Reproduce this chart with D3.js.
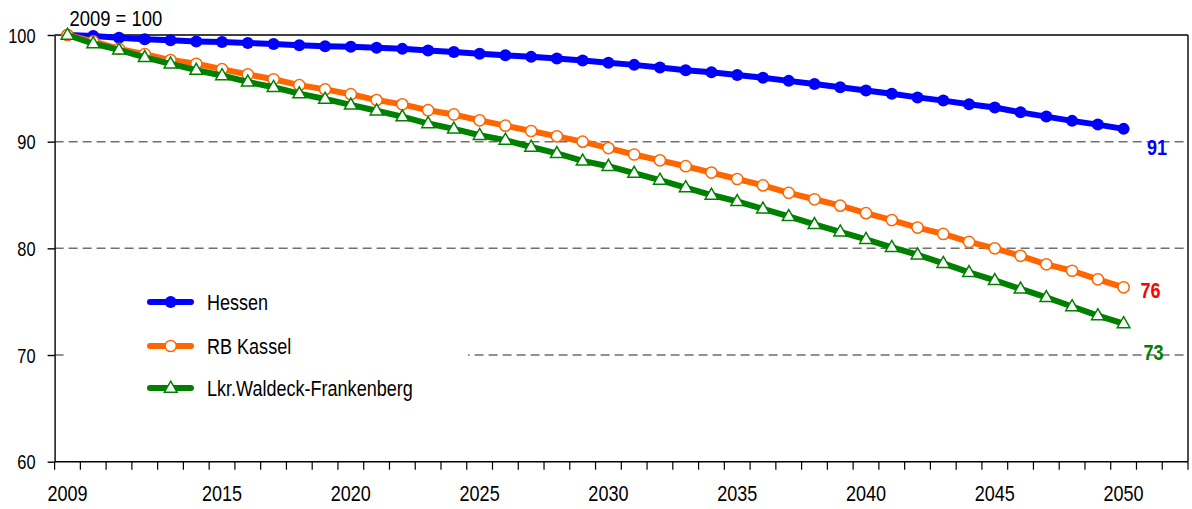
<!DOCTYPE html>
<html>
<head>
<meta charset="utf-8">
<script src="https://cdn.jsdelivr.net/npm/d3@7"></script>
<style>
  html, body { margin: 0; padding: 0; background: #fff; }
  svg { display: block; }
  text { font-family: "Liberation Sans", Arial, sans-serif; }
</style>
</head>
<body>
<svg id="chart" width="1192" height="509"></svg>
<script>
// ---------- data ----------
const categories = [2009, 2010, 2011, 2012, 2013, 2014, 2015, 2016, 2017, 2018,
  2019, 2020, 2021, 2022, 2023, 2024, 2025, 2026, 2027, 2028,
  2029, 2030, 2031, 2032, 2033, 2034, 2035, 2036, 2037, 2038,
  2039, 2040, 2041, 2042, 2043, 2044, 2045, 2046, 2047, 2048,
  2049, 2050];
const emptySlots = [2051, 2052];

const hessen = [100, 99.9, 99.75, 99.6, 99.5, 99.4, 99.35, 99.25, 99.15, 99.05,
  98.95, 98.9, 98.8, 98.7, 98.55, 98.4, 98.25, 98.1, 97.95, 97.8,
  97.6, 97.4, 97.2, 96.95, 96.7, 96.5, 96.25, 96.0, 95.7, 95.4,
  95.1, 94.8, 94.5, 94.15, 93.85, 93.5, 93.2, 92.75, 92.35, 91.95,
  91.6, 91.2];
const rbKassel = [100, 99.4, 98.7, 98.2, 97.65, 97.3, 96.8, 96.3, 95.85, 95.3,
  94.9, 94.45, 93.9, 93.5, 92.95, 92.55, 92.0, 91.5, 91.0, 90.5,
  90.0, 89.4, 88.8, 88.25, 87.7, 87.1, 86.5, 85.9, 85.2, 84.6,
  84.0, 83.3, 82.65, 81.95, 81.35, 80.6, 80.0, 79.3, 78.5, 77.9,
  77.1, 76.35];
const waldeck = [100, 99.2, 98.6, 97.9, 97.3, 96.7, 96.2, 95.6, 95.1, 94.5,
  94.0, 93.45, 92.9, 92.35, 91.7, 91.2, 90.6, 90.15, 89.5, 88.9,
  88.2, 87.7, 87.05, 86.4, 85.7, 85.0, 84.4, 83.7, 83.0, 82.25,
  81.55, 80.85, 80.1, 79.4, 78.6, 77.75, 77.0, 76.2, 75.4, 74.55,
  73.7, 72.95];

const seriesNames = ["Hessen", "RB Kassel", "Lkr.Waldeck-Frankenberg"];
const endLabels = ["91", "76", "73"];
const xTickLabels = [2009, 2015, 2020, 2025, 2030, 2035, 2040, 2045, 2050];
const yTicks = [60, 70, 80, 90, 100];
const gridValues = [70, 80, 90];
const baseLabel = "2009 = 100";

(function () {
// ---------- styling ----------
const colors = ["#0000ff", "#ff6600", "#008000"];
const labelColors = ["#0000ff", "#ff0000", "#008000"];
const NARROW = 0.82;

const svg = d3.select("#chart");
const pLeft = 54.6, pRight = 1188, pTop = 35, pBottom = 461.7;

const x = d3.scaleBand().domain(categories.concat(emptySlots)).range([pLeft, pRight]).padding(0);
const bw = x.bandwidth();
const cx = d => x(d) + bw / 2;
const y = d3.scaleLinear().domain([60, 100]).range([pBottom, pTop]);

// gridlines
svg.append("g").selectAll("line").data(gridValues).join("line")
  .attr("x1", pLeft).attr("x2", pRight)
  .attr("y1", d => y(d)).attr("y2", d => y(d))
  .attr("stroke", "#707070").attr("stroke-width", 1.5)
  .attr("stroke-dasharray", "9,5");

// legend background (covers gridline)
svg.append("rect")
  .attr("x", 66).attr("y", 268).attr("width", 402).attr("height", 142)
  .attr("fill", "#fff");

// plot frame: top & right
svg.append("line").attr("x1", pLeft).attr("x2", pRight).attr("y1", y(100)).attr("y2", y(100))
  .attr("stroke", "#000").attr("stroke-width", 1.4);
svg.append("line").attr("x1", pRight).attr("x2", pRight).attr("y1", y(100)).attr("y2", y(60))
  .attr("stroke", "#000").attr("stroke-width", 1.4);

// y axis
const yAxis = svg.append("g").attr("transform", `translate(${pLeft},0)`)
  .call(d3.axisLeft(y).tickValues(yTicks).tickSize(7).tickPadding(0).tickSizeOuter(0));
yAxis.select(".domain").attr("stroke", "#000").attr("stroke-width", 1.4);
yAxis.selectAll(".tick line").attr("stroke", "#000").attr("stroke-width", 1.4);
yAxis.selectAll(".tick text")
  .attr("x", -19 / NARROW).attr("dy", "0.36em")
  .attr("transform", `scale(${NARROW},1)`)
  .style("font-size", "20px").style("font-family", "'Liberation Sans', Arial, sans-serif")
  .style("fill", "#000");

// x axis line + boundary ticks
const xg = svg.append("g");
xg.append("line").attr("x1", pLeft).attr("x2", pRight).attr("y1", pBottom).attr("y2", pBottom)
  .attr("stroke", "#000").attr("stroke-width", 1.4);
const boundaries = x.domain().map(d => x(d)).concat([pRight]);
xg.selectAll("line.tk").data(boundaries).join("line").attr("class", "tk")
  .attr("x1", d => d).attr("x2", d => d).attr("y1", pBottom).attr("y2", pBottom + 8)
  .attr("stroke", "#000").attr("stroke-width", 1.2);
xg.selectAll("text").data(xTickLabels).join("text")
  .attr("transform", d => `translate(${cx(d)},${pBottom + 39.5}) scale(${NARROW},1)`)
  .attr("text-anchor", "middle")
  .style("font-size", "22px").style("fill", "#000")
  .text(d => d);

// base label
svg.append("text")
  .attr("transform", `translate(${cx(2009) + 2},${pTop - 9}) scale(${NARROW},1)`)
  .style("font-size", "22.5px").style("fill", "#000")
  .text(baseLabel);

// series
const allSeries = [hessen, rbKassel, waldeck];
const line = d3.line().x((d, i) => cx(categories[i])).y(d => y(d));
const tri = d3.symbol().type(d3.symbolTriangle).size(70);

function drawMarker(g, k, px, py) {
  if (k === 0) {
    g.append("circle").attr("cx", px).attr("cy", py).attr("r", 6).attr("fill", colors[0]);
  } else if (k === 1) {
    g.append("circle").attr("cx", px).attr("cy", py).attr("r", 5.6)
      .attr("fill", "#fff").attr("stroke", colors[1]).attr("stroke-width", 1.5);
  } else {
    g.append("path").attr("d", tri).attr("transform", `translate(${px},${py + 0.5})`)
      .attr("fill", "#fff").attr("stroke", colors[2]).attr("stroke-width", 1.5);
  }
}

allSeries.forEach((vals, k) => {
  const g = svg.append("g");
  g.append("path").datum(vals).attr("d", line)
    .attr("fill", "none").attr("stroke", colors[k]).attr("stroke-width", 6)
    .attr("stroke-linejoin", "round").attr("stroke-linecap", "round");
  vals.forEach((v, i) => drawMarker(g, k, cx(categories[i]), y(v)));
});

// end labels (manually placed data labels)
const endOffsets = [[33.5, 155], [27, 298], [30, 360]];
endLabels.forEach((t, k) => {
  svg.append("text")
    .attr("transform", `translate(${cx(2050) + endOffsets[k][0]},${endOffsets[k][1]}) scale(${NARROW},1)`)
    .attr("text-anchor", "middle")
    .style("font-size", "22px").style("font-weight", "bold")
    .style("fill", labelColors[k])
    .text(t);
});

// legend
const legendY = [302, 346, 388];
seriesNames.forEach((name, k) => {
  const g = svg.append("g");
  g.append("line").attr("x1", 150).attr("x2", 191).attr("y1", legendY[k]).attr("y2", legendY[k])
    .attr("stroke", colors[k]).attr("stroke-width", 6).attr("stroke-linecap", "round");
  drawMarker(g, k, 170.7, legendY[k]);
  g.append("text")
    .attr("transform", `translate(207,${legendY[k] + 8}) scale(${NARROW},1)`)
    .style("font-size", "22px").style("fill", "#000")
    .text(name);
});
})();
</script>
</body>
</html>
